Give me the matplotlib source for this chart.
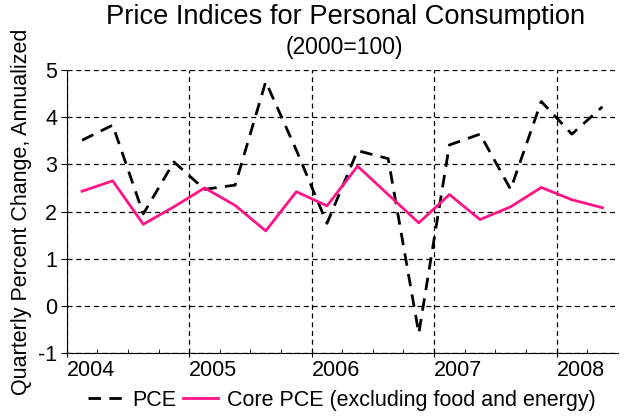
import matplotlib.pyplot as plt
import numpy as np

plt.rcParams['font.family'] = ['Liberation Sans', 'DejaVu Sans']
plt.rcParams['axes.unicode_minus'] = False

# quarterly data, 2004Q1 .. 2008Q2 (plotted at mid-quarter)
quarters = 2004 + (np.arange(18) + 0.5) * 0.25
pce = [3.51, 3.83, 1.95, 3.05, 2.47, 2.56, 4.75, 3.30, 1.75,
       3.29, 3.12, -0.58, 3.41, 3.64, 2.47, 4.33, 3.64, 4.22]
core_pce = [2.43, 2.65, 1.73, 2.10, 2.50, 2.13, 1.59, 2.42, 2.12,
            2.96, 2.36, 1.76, 2.36, 1.83, 2.10, 2.51, 2.25, 2.08]
years = [2004, 2005, 2006, 2007, 2008]

fig = plt.figure(figsize=(6.24, 4.16), dpi=100)
ax = fig.add_axes([0.107, 0.151, 0.883, 0.681])

ax.plot(quarters, pce, color='black', lw=2, dashes=(4.5, 3), label='PCE')
ax.plot(quarters, core_pce, color='#ff1488', lw=2,
        label='Core PCE (excluding food and energy)')

ax.set_xlim(2004, 2008.5)
ax.set_ylim(-1, 5)
ax.set_xticks(years)
ax.set_xticklabels([str(y) for y in years], ha='left')
ax.set_xticks(np.arange(2004, 2008.5, 0.25), minor=True)
ax.set_yticks(range(-1, 6))
ax.tick_params(axis='x', which='major', direction='inout', length=6,
               labelsize=15.5, pad=2)
ax.tick_params(axis='x', which='minor', direction='in', length=3)
ax.tick_params(axis='y', direction='out', length=4, labelsize=15.5, pad=3)

ax.grid(True, color='black', linestyle=(0, (4, 3)), lw=0.9)
for s in ['top', 'right']:
    ax.spines[s].set_visible(False)

ax.set_ylabel('Quarterly Percent Change, Annualized', fontsize=15.5, labelpad=4)
fig.text(0.553, 0.959, 'Price Indices for Personal Consumption', ha='center',
         va='center', fontsize=19.6)
fig.text(0.552, 0.887, '(2000=100)', ha='center', va='center', fontsize=16.5)

fig.legend(loc='center', bbox_to_anchor=(0.548, 0.038), ncol=2, frameon=False,
           fontsize=15.5, handlelength=1.6, columnspacing=0.35,
           handletextpad=0.45)

plt.savefig('out.png', dpi=100)
